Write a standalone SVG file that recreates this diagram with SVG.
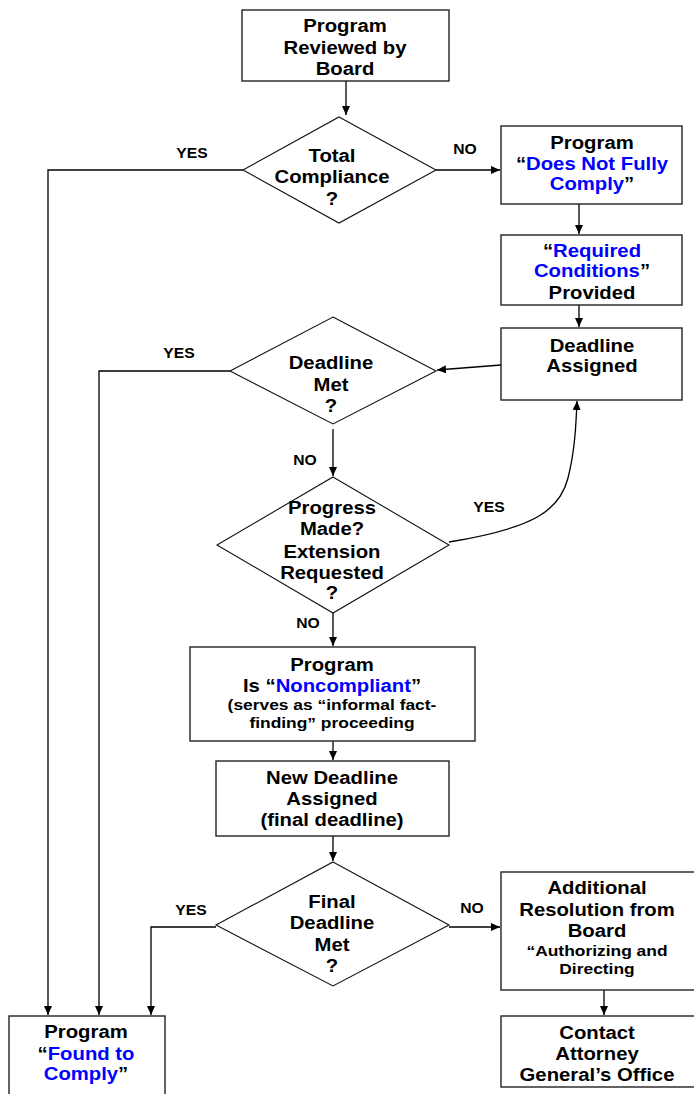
<svg xmlns="http://www.w3.org/2000/svg" width="694" height="1094" viewBox="0 0 694 1094">
<style>
.box{fill:#fff;stroke:#222;stroke-width:1.4}
.dia{fill:#fff;stroke:#111;stroke-width:1.1}
.t{font-family:"Liberation Sans",Arial,sans-serif;font-weight:bold;font-size:17.5px;fill:#000;text-anchor:middle}
.s{font-size:15px}
.b{fill:#0000ff}
.lbl{font-family:"Liberation Sans",Arial,sans-serif;font-weight:bold;font-size:14px;fill:#000;text-anchor:middle}
.c{fill:none;stroke:#000;stroke-width:1.3}
</style>
<defs>
<marker id="ah" markerUnits="userSpaceOnUse" markerWidth="10" markerHeight="8" refX="9" refY="4" orient="auto">
<path d="M0,0 L9,4 L0,8 z" fill="#000"/>
</marker>
</defs>
<rect width="694" height="1094" fill="#fff"/>

<g id="connectors">
<path class="c" d="M346,81 V115" marker-end="url(#ah)"/>
<path class="c" d="M243,170 H48 V1015" marker-end="url(#ah)"/>
<path class="c" d="M436,170 H500" marker-end="url(#ah)"/>
<path class="c" d="M579,204 V234" marker-end="url(#ah)"/>
<path class="c" d="M579,305 V327" marker-end="url(#ah)"/>
<path class="c" d="M501,365 L437,370" marker-end="url(#ah)"/>
<path class="c" d="M230,371 H99 V1015" marker-end="url(#ah)"/>
<path class="c" d="M333,429 V476" marker-end="url(#ah)"/>
<path class="c" d="M449,542 C535,528 560,510 568,478 C575,450 576,425 577,401" marker-end="url(#ah)"/>
<path class="c" d="M333,613 V646" marker-end="url(#ah)"/>
<path class="c" d="M333,741 V760" marker-end="url(#ah)"/>
<path class="c" d="M333,836 V861" marker-end="url(#ah)"/>
<path class="c" d="M216,927 H151 V1015" marker-end="url(#ah)"/>
<path class="c" d="M449,927 H500" marker-end="url(#ah)"/>
<path class="c" d="M604,990 V1015" marker-end="url(#ah)"/>
<text class="lbl" transform="translate(192,0) scale(1.12,1)" x="0" y="158">YES</text>
<text class="lbl" transform="translate(465,0) scale(1.12,1)" x="0" y="154">NO</text>
<text class="lbl" transform="translate(179,0) scale(1.12,1)" x="0" y="358">YES</text>
<text class="lbl" transform="translate(305,0) scale(1.12,1)" x="0" y="465">NO</text>
<text class="lbl" transform="translate(489,0) scale(1.12,1)" x="0" y="512">YES</text>
<text class="lbl" transform="translate(308,0) scale(1.12,1)" x="0" y="628">NO</text>
<text class="lbl" transform="translate(191,0) scale(1.12,1)" x="0" y="915">YES</text>
<text class="lbl" transform="translate(472,0) scale(1.12,1)" x="0" y="913">NO</text>
</g>

<g id="n-reviewed">
<rect class="box" x="242" y="10" width="207" height="71"/>
<text class="t" transform="translate(345,0) scale(1.16,1)"><tspan x="0" y="32">Program</tspan><tspan x="0" y="54">Reviewed by</tspan><tspan x="0" y="75">Board</tspan></text>
</g>

<g id="n-total">
<polygon class="dia" points="339,117 436,170 339,223 243,170"/>
<text class="t" transform="translate(332,0) scale(1.16,1)"><tspan x="0" y="162">Total</tspan><tspan x="0" y="183">Compliance</tspan><tspan x="0" y="205">?</tspan></text>
</g>

<g id="n-notfully">
<rect class="box" x="501" y="126" width="181" height="78"/>
<text class="t" transform="translate(592,0) scale(1.16,1)"><tspan x="0" y="149">Program</tspan><tspan x="0" y="170">“<tspan class="b">Does Not Fully</tspan></tspan><tspan x="0" y="190"><tspan class="b">Comply</tspan>”</tspan></text>
</g>

<g id="n-required">
<rect class="box" x="501" y="235" width="181" height="70"/>
<text class="t" transform="translate(592,0) scale(1.16,1)"><tspan x="0" y="257">“<tspan class="b">Required</tspan></tspan><tspan x="0" y="277"><tspan class="b">Conditions</tspan>”</tspan><tspan x="0" y="299">Provided</tspan></text>
</g>

<g id="n-assigned">
<rect class="box" x="501" y="328" width="181" height="72"/>
<text class="t" transform="translate(592,0) scale(1.16,1)"><tspan x="0" y="352">Deadline</tspan><tspan x="0" y="372">Assigned</tspan></text>
</g>

<g id="n-met">
<polygon class="dia" points="333,317 436,371 333,424 230,371"/>
<text class="t" transform="translate(331,0) scale(1.16,1)"><tspan x="0" y="369">Deadline</tspan><tspan x="0" y="391">Met</tspan><tspan x="0" y="412">?</tspan></text>
</g>

<g id="n-progress">
<polygon class="dia" points="333,477 449,545 333,613 217,545"/>
<text class="t" transform="translate(332,0) scale(1.16,1)"><tspan x="0" y="514">Progress</tspan><tspan x="0" y="535">Made?</tspan><tspan x="0" y="558">Extension</tspan><tspan x="0" y="579">Requested</tspan><tspan x="0" y="599">?</tspan></text>
</g>

<g id="n-noncompliant">
<rect class="box" x="190" y="647" width="285" height="94"/>
<text class="t" transform="translate(332,0) scale(1.16,1)"><tspan x="0" y="671">Program</tspan><tspan x="0" y="692">Is “<tspan class="b">Noncompliant</tspan>”</tspan><tspan class="s" x="0" y="710">(serves as “informal fact-</tspan><tspan class="s" x="0" y="728">finding” proceeding</tspan></text>
</g>

<g id="n-newdeadline">
<rect class="box" x="216" y="761" width="233" height="75"/>
<text class="t" transform="translate(332,0) scale(1.16,1)"><tspan x="0" y="784">New Deadline</tspan><tspan x="0" y="805">Assigned</tspan><tspan x="0" y="826">(final deadline)</tspan></text>
</g>

<g id="n-final">
<polygon class="dia" points="333,862 449,925 333,986 216,925"/>
<text class="t" transform="translate(332,0) scale(1.16,1)"><tspan x="0" y="908">Final</tspan><tspan x="0" y="929">Deadline</tspan><tspan x="0" y="951">Met</tspan><tspan x="0" y="972">?</tspan></text>
</g>

<g id="n-additional">
<rect class="box" x="501" y="872" width="196" height="118"/>
<text class="t" transform="translate(597,0) scale(1.16,1)"><tspan x="0" y="894">Additional</tspan><tspan x="0" y="916">Resolution from</tspan><tspan x="0" y="937">Board</tspan><tspan class="s" x="0" y="956">“Authorizing and</tspan><tspan class="s" x="0" y="974">Directing</tspan></text>
</g>

<g id="n-contact">
<rect class="box" x="501" y="1016" width="196" height="71"/>
<text class="t" transform="translate(597,0) scale(1.16,1)"><tspan x="0" y="1039">Contact</tspan><tspan x="0" y="1060">Attorney</tspan><tspan x="0" y="1081">General’s Office</tspan></text>
</g>

<g id="n-found">
<rect class="box" x="9" y="1016" width="156" height="90"/>
<text class="t" transform="translate(86,0) scale(1.16,1)"><tspan x="0" y="1038">Program</tspan><tspan x="0" y="1060">“<tspan class="b">Found to</tspan></tspan><tspan x="0" y="1080"><tspan class="b">Comply</tspan>”</tspan></text>
</g>
</svg>
